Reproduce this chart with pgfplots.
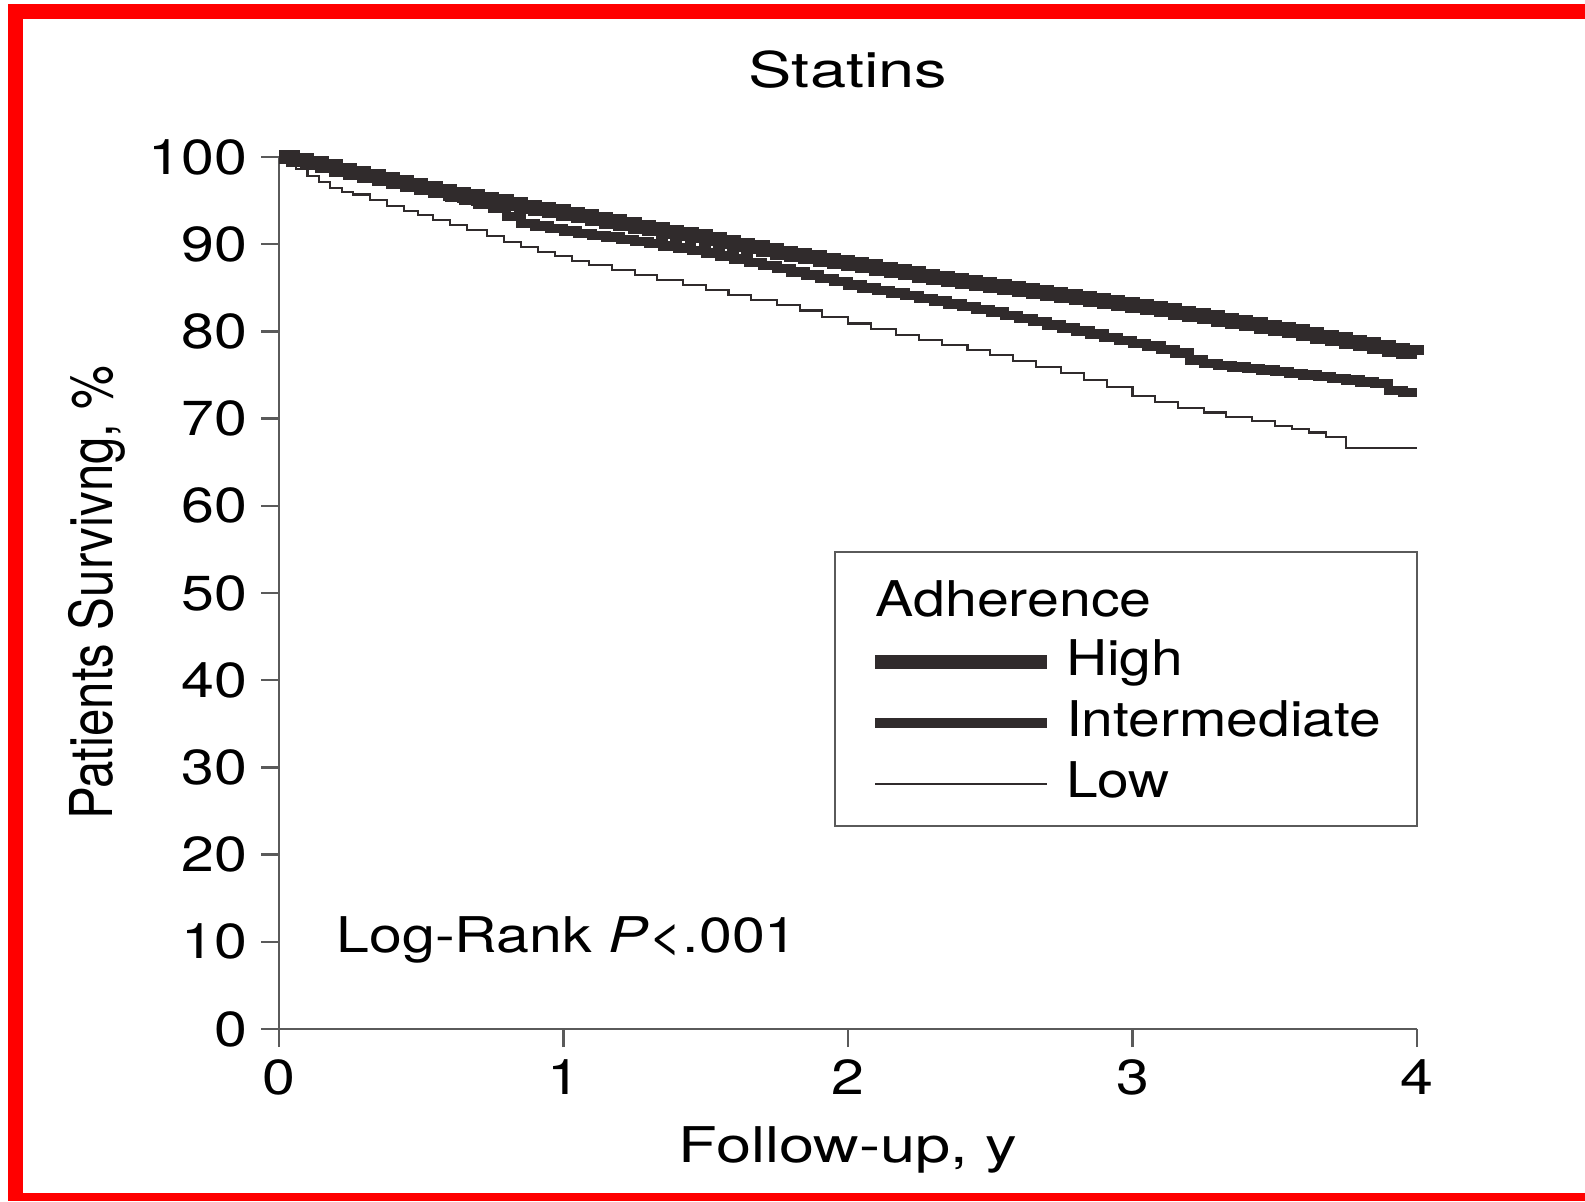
\documentclass[border=0pt]{standalone}
\usepackage{fontspec}
\setmainfont[FakeStretch=1.2]{TeX Gyre Heros}
\newfontfamily\plainfont{TeX Gyre Heros}
\usepackage{graphicx}
\usepackage{pgfplots}
\pgfplotsset{compat=1.18}
\definecolor{ink}{RGB}{48,43,44}
\definecolor{axisgray}{RGB}{90,90,90}
\begin{document}
\fontsize{14pt}{17pt}\selectfont
\begin{tikzpicture}
\useasboundingbox (0,0) rectangle (15.85,12.01);
\fill[white] (0,0) rectangle (15.85,12.01);
\fill[red] (0.08,0) rectangle (0.23,11.97);
\fill[red] (0.08,11.82) rectangle (15.85,11.97);
\fill[red] (0.08,0) rectangle (15.85,0.08);
\begin{axis}[
  at={(2.79cm,1.72cm)}, anchor=south west,
  scale only axis, width=11.38cm, height=8.72cm,
  xmin=0, xmax=4, ymin=0, ymax=100,
  axis lines*=left,
  axis line style={axisgray, line width=0.7pt, -},
  tick style={axisgray, line width=0.7pt},
  tick align=outside, major tick length=0.18cm,
  xtick={0,1,2,3,4}, ytick={0,10,...,100},
  /pgf/number format/assume math mode=true,
  tick label style={font=\fontsize{14pt}{17pt}\selectfont, text=black},
  yticklabel style={xshift=0.03cm},
  xticklabel style={yshift=0.04cm},
  title={\scalebox{1.1}[1]{Statins}},
  title style={at={(axis description cs:0.5,1.076)}, anchor=center, font=\fontsize{14pt}{17pt}\selectfont},
  xlabel={\scalebox{1.07}[1]{Follow-up, y}},
  xlabel style={at={(axis description cs:0.5,-0.139)}, anchor=center, font=\fontsize{14pt}{17pt}\selectfont},
  ylabel={\scalebox{1}[1.2]{\plainfont Patients Survivng, \%}},
  ylabel style={at={(axis description cs:-0.160,0.5)}, anchor=center, font=\fontsize{14pt}{17pt}\selectfont},
  clip=false,
  legend image code/.code={\draw[#1] (0cm,0cm) -- (1.72cm,0cm);},
  legend cell align=left,
  legend style={at={(axis cs:2.031,45.6)}, anchor=north west, draw=none, fill=none,
    font=\fontsize{14pt}{17pt}\selectfont,
    nodes={inner sep=0pt, text height=0.36cm, text depth=0.1cm},
    row sep=0.15cm, column sep=0.12cm},
]
\addplot[const plot, color=ink, line width=4pt] coordinates {
(0,100) (0.05,99.65) (0.1,99.3) (0.15,98.95) (0.2,98.55) (0.25,98.2) (0.3,97.85) (0.35,97.5) (0.4,97.1) (0.45,96.75)
(0.5,96.4) (0.55,96.1) (0.6,95.8) (0.65,95.5) (0.7,95.2) (0.75,94.9) (0.8,94.6) (0.85,94.3) (0.9,94.05) (0.95,93.8)
(1.0,93.5) (1.05,93.2) (1.1,92.9) (1.15,92.6) (1.2,92.3) (1.25,92.0) (1.3,91.7) (1.35,91.45) (1.4,91.15) (1.45,90.9)
(1.5,90.6) (1.55,90.3) (1.6,89.95) (1.65,89.65) (1.7,89.3) (1.75,89.0) (1.8,88.75) (1.85,88.5) (1.9,88.2) (1.95,87.95)
(2.0,87.7) (2.05,87.45) (2.1,87.2) (2.15,86.9) (2.2,86.65) (2.25,86.4) (2.3,86.15) (2.35,85.9) (2.4,85.7) (2.45,85.45)
(2.5,85.2) (2.55,85.0) (2.6,84.75) (2.65,84.55) (2.7,84.3) (2.75,84.1) (2.8,83.85) (2.85,83.6) (2.9,83.4) (2.95,83.15)
(3.0,82.9) (3.05,82.65) (3.1,82.4) (3.15,82.15) (3.2,81.85) (3.25,81.6) (3.3,81.35) (3.35,81.1) (3.4,80.8) (3.45,80.55)
(3.5,80.3) (3.55,80.0) (3.6,79.7) (3.65,79.4) (3.7,79.1) (3.75,78.8) (3.8,78.5) (3.85,78.2) (3.9,77.9) (3.95,77.6) (4.0,77.3)
};
\addlegendentry{\scalebox{0.965}[1]{High}}
\addplot[const plot, color=ink, line width=2.7pt] coordinates {
(0,100) (0.05,99.6) (0.1,99.2) (0.15,98.8) (0.2,98.4) (0.25,98.0) (0.3,97.65) (0.35,97.3) (0.4,96.9) (0.45,96.55)
(0.5,96.2) (0.55,95.8) (0.6,95.4) (0.65,95.0) (0.7,94.6) (0.75,94.1) (0.8,93.2) (0.85,92.4) (0.9,92.1) (0.95,91.8)
(1.0,91.5) (1.05,91.25) (1.1,91.0) (1.15,90.8) (1.2,90.55) (1.25,90.3) (1.3,90.05) (1.35,89.8) (1.4,89.55) (1.45,89.3)
(1.5,89.0) (1.55,88.65) (1.6,88.3) (1.65,87.9) (1.7,87.55) (1.75,87.2) (1.8,86.8) (1.85,86.45) (1.9,86.05) (1.95,85.7)
(2.0,85.3) (2.05,85.0) (2.1,84.7) (2.15,84.4) (2.2,84.1) (2.25,83.8) (2.3,83.5) (2.35,83.15) (2.4,82.85) (2.45,82.5)
(2.5,82.2) (2.55,81.85) (2.6,81.5) (2.65,81.15) (2.7,80.75) (2.75,80.4) (2.8,80.05) (2.85,79.7) (2.9,79.3) (2.95,78.95)
(3.0,78.6) (3.05,78.3) (3.1,77.9) (3.15,77.5) (3.2,76.7) (3.25,76.3) (3.3,76.1) (3.35,75.9) (3.4,75.75) (3.45,75.6)
(3.5,75.4) (3.55,75.2) (3.6,75.0) (3.65,74.8) (3.7,74.6) (3.75,74.4) (3.8,74.2) (3.85,74.0) (3.9,73.2) (3.95,73.0) (4.0,73.0)
};
\addlegendentry{\scalebox{0.965}[1]{Intermediate}}
\addplot[const plot, color=ink, line width=0.6pt] coordinates {
(0,100) (0.03,99.3) (0.06,98.6) (0.1,97.8) (0.14,97.1) (0.18,96.4) (0.22,96.0) (0.26,95.7) (0.32,95.1) (0.38,94.4)
(0.44,93.8) (0.49,93.3) (0.54,92.8) (0.6,92.2) (0.66,91.6) (0.73,90.9) (0.79,90.3) (0.85,89.7) (0.91,89.1) (0.97,88.6)
(1.03,88.1) (1.09,87.6) (1.17,87.0) (1.25,86.5) (1.33,85.9) (1.42,85.3) (1.5,84.7) (1.58,84.2) (1.66,83.6) (1.75,83.0)
(1.83,82.4) (1.91,81.6) (2.0,80.9) (2.08,80.3) (2.17,79.6) (2.25,79.0) (2.33,78.4) (2.42,77.9) (2.5,77.3) (2.58,76.6)
(2.66,75.9) (2.75,75.2) (2.83,74.4) (2.91,73.6) (3.0,72.6) (3.08,71.9) (3.16,71.2) (3.25,70.7) (3.33,70.2) (3.42,69.7)
(3.5,69.2) (3.56,68.8) (3.62,68.4) (3.68,67.9) (3.75,66.6) (4.0,66.6)
};
\addlegendentry{\scalebox{0.965}[1]{Low}}
\draw[axisgray, line width=0.7pt] (axis cs:1.954,23.3) rectangle (axis cs:4,54.7);
\node[anchor=base west, inner sep=0pt, font=\fontsize{14pt}{17pt}\selectfont] at (axis cs:2.095,47.25) {\scalebox{0.97}[1]{Adherence}};
\node[anchor=base west, inner sep=0pt, font=\fontsize{14pt}{17pt}\selectfont] at (axis cs:0.2,8.83) {Log-Rank \textit{P}<.001};
\end{axis}
\end{tikzpicture}
\end{document}
